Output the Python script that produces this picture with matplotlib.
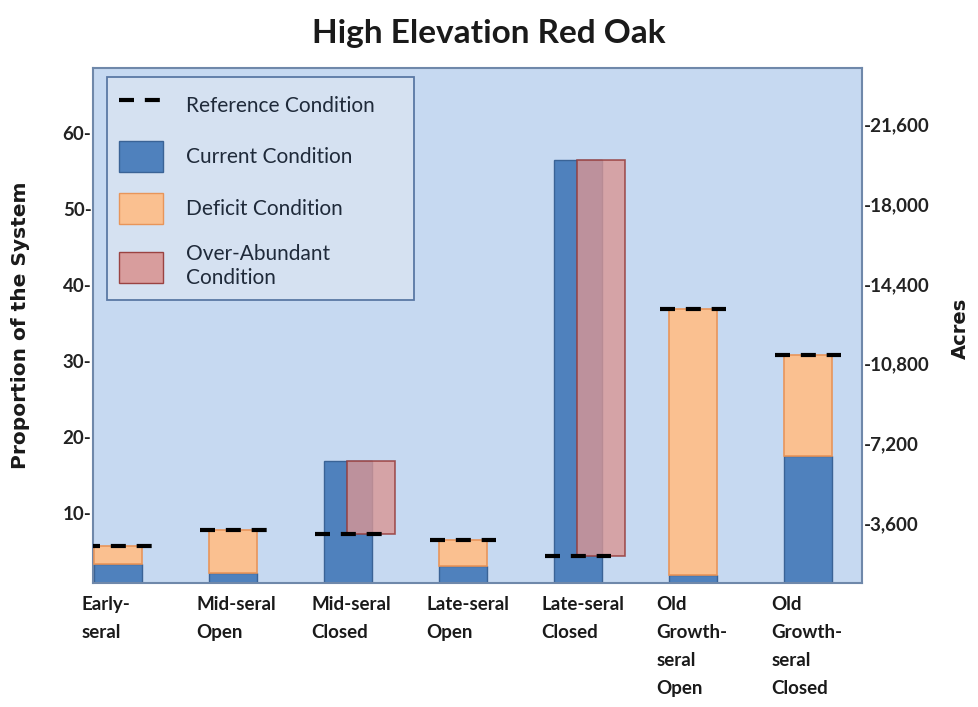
import matplotlib
matplotlib.use("Agg")
import matplotlib.pyplot as plt
import numpy as np
from matplotlib.patches import Patch
from matplotlib.lines import Line2D
from matplotlib.ticker import FuncFormatter, FixedLocator

# ---- data ----
categories = ["Early-\nseral", "Mid-seral\nOpen", "Mid-seral\nClosed", "Late-seral\nOpen",
              "Late-seral\nClosed", "Old\nGrowth-\nseral\nOpen", "Old\nGrowth-\nseral\nClosed"]
current = [3.3, 2.1, 16.9, 3.0, 56.5, 1.8, 17.5]
reference = [5.6, 7.8, 7.2, 6.5, 4.3, 36.8, 30.8]
left_ticks = [10, 20, 30, 40, 50, 60]
acre_ticks = [3600, 7200, 10800, 14400, 18000, 21600]

title = "High Elevation Red Oak"
ylabel_left = "Proportion of the System"
ylabel_right = "Acres"

plt.rcParams['font.family'] = ['Lato', 'DejaVu Sans']

BG = '#C6D9F1'
BLUE = '#4F81BD'
BLUE_E = '#3A6396'
ORANGE = '#FAC090'
ORANGE_E = '#E8955A'
PINK = '#D99694'
PINK_E = '#943634'

fig = plt.figure(figsize=(9.79, 7.07), dpi=100)
ax = fig.add_axes([0.095, 0.1754, 0.7855, 0.7284])
ax.set_facecolor(BG)

x = np.arange(len(categories))
cur = np.array(current)
ref = np.array(reference)
w = 0.42
deficit = np.clip(ref - cur, 0, None)
over = np.clip(cur - ref, 0, None)

ax.bar(x, cur, width=w, color=BLUE, edgecolor=BLUE_E, linewidth=1, zorder=2)
mask_d = deficit > 0
ax.bar(x[mask_d], deficit[mask_d], bottom=cur[mask_d], width=w, color=ORANGE,
       edgecolor=ORANGE_E, linewidth=1.2, zorder=3)
mask_o = over > 0
ax.bar(x[mask_o] + 0.2, over[mask_o], bottom=ref[mask_o], width=w, color=PINK, alpha=0.8,
       edgecolor=PINK_E, linewidth=1.2, zorder=4)
ax.hlines(ref, x - 0.29, x + 0.29, colors='black', linewidth=3.0,
          linestyles=[(0, (3.6, 2.6))] * len(ref), zorder=5, capstyle='butt')

ax.set_xlim(-0.22, 6.47)
ax.set_ylim(0.79, 68.55)
ax.set_xticks([])
ax.yaxis.set_major_locator(FixedLocator(left_ticks))
ax.yaxis.set_major_formatter(FuncFormatter(lambda v, p: f"{int(v)}-"))
ax.tick_params(axis='y', length=0, pad=1, labelsize=13.5)
for lab in ax.get_yticklabels():
    lab.set_fontweight('bold')
    lab.set_color('#222222')

for s in ax.spines.values():
    s.set_color('#6F88AA')
    s.set_linewidth(1.5)

# category labels (left-aligned blocks)
for xi, lab in zip(x, categories):
    ax.text(xi - 0.32, -0.025, lab, transform=ax.get_xaxis_transform(), ha='left', va='top',
            multialignment='left', fontsize=13.5, fontweight='bold', color='#1a1a1a',
            linespacing=1.8)

# right axis in acres
ax2 = ax.twinx()
ax2.set_ylim(915, 24130)
ax2.yaxis.set_major_locator(FixedLocator(acre_ticks))
ax2.yaxis.set_major_formatter(FuncFormatter(lambda v, p: f"-{int(v):,}"))
ax2.tick_params(axis='y', length=0, pad=1, labelsize=13.5)
for lab in ax2.get_yticklabels():
    lab.set_fontweight('bold')
    lab.set_color('#222222')
for s in ax2.spines.values():
    s.set_visible(False)

fig.text(0.4995, 0.953, title, ha='center', va='center', fontsize=24, fontweight='bold',
         color='#1a1a1a')
fig.text(0.021, 0.54, ylabel_left, rotation=90, ha='center', va='center', fontsize=14.5,
         fontweight='bold', color='#1a1a1a', family=['DejaVu Sans'])
fig.text(0.981, 0.535, ylabel_right, rotation=90, ha='center', va='center', fontsize=14,
         fontweight='bold', color='#1a1a1a', family=['DejaVu Sans'])

handles = [
    Line2D([0], [0], color='black', linewidth=3.0, linestyle=(0, (3.6, 2.6))),
    Patch(facecolor=BLUE, edgecolor=BLUE_E),
    Patch(facecolor=ORANGE, edgecolor=ORANGE_E),
    Patch(facecolor=PINK, edgecolor=PINK_E, alpha=0.9),
]
labels = ["Reference Condition", "Current Condition", "Deficit Condition", "Over-Abundant\nCondition"]
leg = ax.legend(handles, labels, loc='upper left', bbox_to_anchor=(0.018, 0.5, 0.40, 0.483),
                mode='expand', borderaxespad=0,
                fontsize=15, handlelength=2.1, handleheight=1.95, labelspacing=0.97,
                handletextpad=1.1, borderpad=0.6, fancybox=False, framealpha=1)
leg.get_frame().set_facecolor('#D5E1F1')
leg.get_frame().set_edgecolor('#5A78A4')
leg.get_frame().set_linewidth(1.3)
for t in leg.get_texts():
    t.set_color('#1f2a3a')

fig.savefig("out.png", dpi=100, facecolor='white')
